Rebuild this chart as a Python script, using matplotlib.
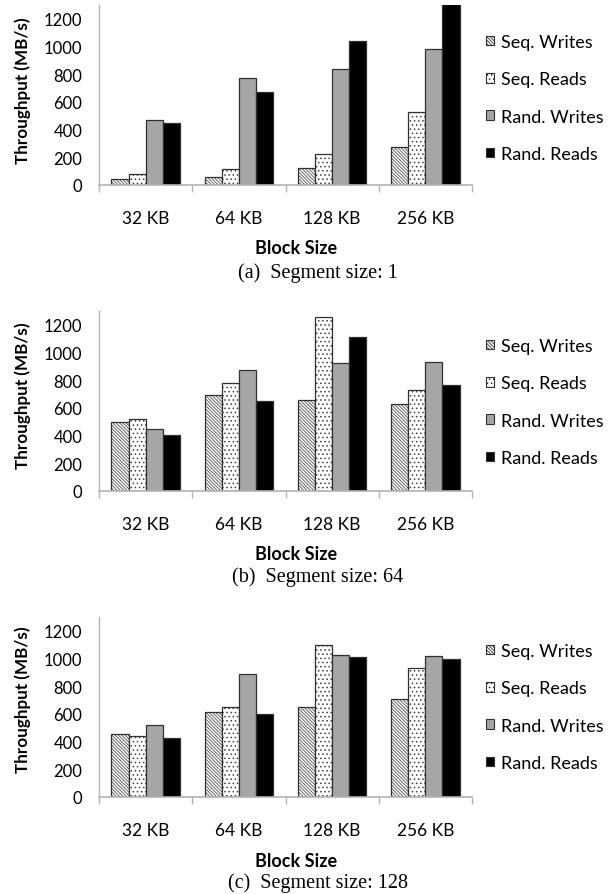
import numpy as np
import matplotlib
matplotlib.use("Agg")
import matplotlib.pyplot as plt
from matplotlib.patches import Patch

plt.rcParams['font.family'] = ['Lato', 'DejaVu Sans']
plt.rcParams['hatch.linewidth'] = 0.6

block_sizes = ["32 KB", "64 KB", "128 KB", "256 KB"]
series_names = ["Seq. Writes", "Seq. Reads", "Rand. Writes", "Rand. Reads"]

# throughput in MB/s, one list per series, one value per block size
seg1_seq_writes = [41, 58, 124, 274]
seg1_seq_reads = [78, 112, 223, 525]
seg1_rand_writes = [469, 770, 838, 981]
seg1_rand_reads = [445, 675, 1042, 1350]

seg64_seq_writes = [497, 696, 655, 631]
seg64_seq_reads = [521, 780, 1258, 732]
seg64_rand_writes = [451, 876, 924, 934]
seg64_rand_reads = [403, 650, 1114, 766]

seg128_seq_writes = [453, 617, 651, 706]
seg128_seq_reads = [439, 653, 1099, 935]
seg128_rand_writes = [520, 889, 1022, 1019]
seg128_rand_reads = [424, 600, 1012, 998]

captions = ["(a)  Segment size: 1", "(b)  Segment size: 64", "(c)  Segment size: 128"]
panels = [
    [seg1_seq_writes, seg1_seq_reads, seg1_rand_writes, seg1_rand_reads],
    [seg64_seq_writes, seg64_seq_reads, seg64_rand_writes, seg64_rand_reads],
    [seg128_seq_writes, seg128_seq_reads, seg128_rand_writes, seg128_rand_reads],
]

W, H = 610, 895
fig = plt.figure(figsize=(W / 100, H / 100), dpi=100)

# pixel rows of each panel: axis zero line, tick labels, axis title, caption, legend rows
zero_px = [186, 492, 798]
legend_top_px = [39, 343, 648]
cat_px = [213, 519, 825]
title_px = [249, 555, 862]
cap_px = [273, 577, 883]
ylab_px = [91, 396, 700]

# fill, hatch, hatch colour
fills = ['white', 'white', '#a6a6a6', 'black']
hatches = ['\\' * 10, '....', None, None]
hatch_cols = ['#505050', '#404040', 'none', 'none']
edge = '#303030'

x = np.arange(len(block_sizes))
bw = 0.183
gray = '#b3b3b3'

handles = [Patch(facecolor=fills[i], hatch=hatches[i], edgecolor=edge, linewidth=0.8)
           for i in range(4)]

for p, data in enumerate(panels):
    h = 180 / H
    ax = fig.add_axes([99 / W, 1 - zero_px[p] / H, 373 / W, h])
    for i, vals in enumerate(data):
        pos = x + (i - 1.5) * bw
        # fill + hatch first, outline on top
        ax.bar(pos, vals, bw, color=fills[i], hatch=hatches[i], edgecolor=hatch_cols[i], linewidth=0)
        ax.bar(pos, vals, bw, fill=False, edgecolor=edge, linewidth=0.9)
    ax.set_ylim(0, 1300)
    ax.set_xlim(-0.5, len(block_sizes) - 0.5)
    ax.set_yticks(range(0, 1300, 200))
    ax.set_xticks(x)
    ax.set_xticklabels(block_sizes)
    ax.set_xticks(np.arange(-0.5, len(block_sizes)), minor=True)
    ax.tick_params(axis='x', which='major', length=0, labelsize=12.5, pad=(cat_px[p] - zero_px[p]) - 9)
    ax.tick_params(axis='x', which='minor', length=5, width=1, color=gray)
    ax.tick_params(axis='y', length=0, labelsize=12, pad=12)
    for s in ['top', 'right']:
        ax.spines[s].set_visible(False)
    ax.spines['left'].set_color(gray)
    ax.spines['bottom'].set_color(gray)
    ax.spines['left'].set_linewidth(1)
    ax.spines['bottom'].set_linewidth(1.2)

    fig.text(23 / W, 1 - ylab_px[p] / H, "Throughput (MB/s)", rotation=90, ha='center', va='center',
             fontsize=12.3, fontweight='bold')
    fig.text(296 / W, 1 - title_px[p] / H, "Block Size", ha='center', va='center',
             fontsize=13, fontweight='bold')
    fig.text(318 / W, 1 - cap_px[p] / H, captions[p], ha='center', va='center',
             fontsize=14.5, family='Liberation Serif')

    fig.legend(handles, series_names, loc='upper left',
               bbox_to_anchor=(477 / W, 1 - (legend_top_px[p] - 13) / H),
               frameon=False, fontsize=13, handlelength=0.45, handleheight=0.45,
               handletextpad=0.4, labelspacing=1.18, borderpad=0)

fig.savefig("out.png", dpi=100)
